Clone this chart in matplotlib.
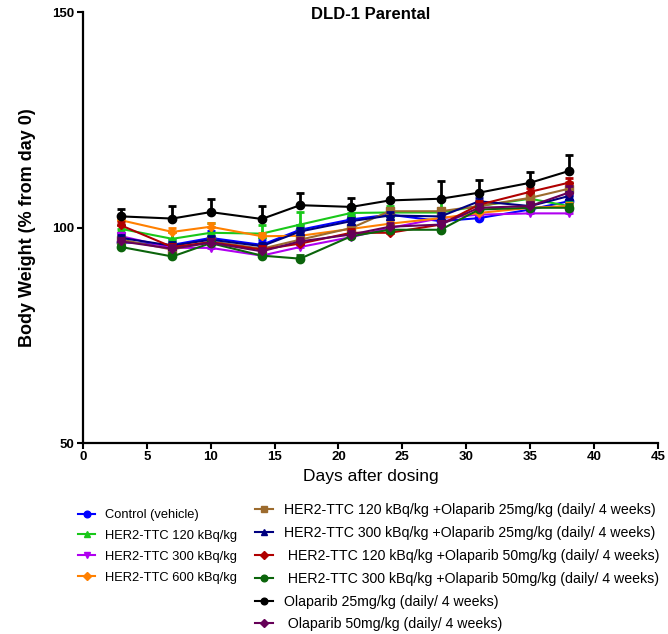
import numpy as np
import matplotlib.pyplot as plt

plt.rcParams['font.family'] = ['Liberation Sans', 'DejaVu Sans']

days = [3, 7, 10, 14, 17, 21, 24, 28, 31, 35, 38]

labels = ["Control (vehicle)",
          "HER2-TTC 120 kBq/kg",
          "HER2-TTC 300 kBq/kg",
          "HER2-TTC 600 kBq/kg",
          "HER2-TTC 120 kBq/kg +Olaparib 25mg/kg (daily/ 4 weeks)",
          "HER2-TTC 300 kBq/kg +Olaparib 25mg/kg (daily/ 4 weeks)",
          " HER2-TTC 120 kBq/kg +Olaparib 50mg/kg (daily/ 4 weeks)",
          " HER2-TTC 300 kBq/kg +Olaparib 50mg/kg (daily/ 4 weeks)",
          "Olaparib 25mg/kg (daily/ 4 weeks)",
          " Olaparib 50mg/kg (daily/ 4 weeks)"]

control      = [96.6, 96.0, 97.6, 96.0, 99.5, 101.9, 103.0, 101.5, 102.2, 104.2, 106.1]
ttc120       = [99.7, 97.4, 98.8, 98.6, 100.7, 103.4, 103.5, 103.5, 105.0, 106.7, 105.0]
ttc300       = [98.0, 95.3, 95.3, 93.5, 95.5, 97.8, 99.9, 102.2, 103.0, 103.3, 103.3]
ttc600       = [101.7, 99.0, 100.2, 98.0, 98.1, 99.7, 100.9, 102.2, 103.4, 104.6, 105.0]
ttc120_ola25 = [97.2, 94.9, 96.8, 95.1, 97.2, 99.9, 103.8, 103.8, 105.0, 106.9, 109.0]
ttc300_ola25 = [97.6, 95.8, 97.2, 95.7, 99.1, 101.5, 102.8, 102.6, 106.1, 105.0, 107.3]
ttc120_ola50 = [100.5, 95.5, 96.6, 94.9, 96.3, 98.8, 98.8, 100.7, 105.3, 108.3, 110.4]
ttc300_ola50 = [95.5, 93.3, 96.4, 93.5, 92.8, 98.0, 99.5, 99.5, 104.2, 104.6, 104.6]
ola25        = [102.6, 102.1, 103.6, 102.0, 105.2, 104.8, 106.3, 106.7, 108.1, 110.4, 113.1]
ola50        = [96.8, 95.1, 96.5, 94.5, 96.8, 98.4, 100.2, 100.7, 104.6, 105.0, 108.1]

# upper SD only
control_err      = [1.0, 1.2, 1.5, 1.2, 1.2, 1.0, 1.2, 1.0, 1.0, 1.2, 1.5]
ttc120_err       = [1.0, 1.5, 2.3, 2.1, 2.9, 1.0, 1.5, 3.0, 1.0, 1.0, 1.0]
ttc300_err       = [0.8, 0.8, 0.8, 0.8, 0.8, 0.8, 0.8, 0.8, 0.8, 0.8, 0.8]
ttc600_err       = [0.8, 0.8, 0.8, 0.8, 0.8, 0.8, 0.8, 0.8, 0.8, 0.8, 0.8]
ttc120_ola25_err = [0.8, 0.8, 0.8, 0.8, 0.8, 0.8, 0.8, 0.8, 0.8, 1.0, 1.5]
ttc300_ola25_err = [0.8, 0.8, 0.8, 0.8, 0.8, 0.8, 0.8, 0.8, 0.8, 0.8, 1.0]
ttc120_ola50_err = [0.8, 0.8, 0.8, 0.8, 0.8, 0.8, 0.8, 0.8, 0.8, 0.8, 1.0]
ttc300_ola50_err = [0.8, 0.8, 0.8, 0.8, 0.8, 0.8, 0.8, 0.8, 0.8, 0.8, 0.8]
ola25_err        = [1.8, 3.0, 3.0, 3.0, 2.9, 2.1, 4.0, 4.2, 3.0, 2.6, 3.8]
ola50_err        = [0.8, 0.8, 0.8, 0.8, 0.8, 0.8, 0.8, 0.8, 0.8, 1.0, 1.5]

series = [control, ttc120, ttc300, ttc600, ttc120_ola25, ttc300_ola25,
          ttc120_ola50, ttc300_ola50, ola25, ola50]
errs = [control_err, ttc120_err, ttc300_err, ttc600_err, ttc120_ola25_err,
        ttc300_ola25_err, ttc120_ola50_err, ttc300_ola50_err, ola25_err, ola50_err]
colors = ['#0000FF', '#19C819', '#B000F0', '#FF8000', '#9C6B2E',
          '#000080', '#B00000', '#0B640B', '#000000', '#660058']
markers = ['o', '^', 'v', 'D', 's', '^', 'D', 'o', 'o', 'D']
msizes = [6, 6, 6, 4.5, 5.5, 6, 4.5, 6, 6, 4.5]

fig = plt.figure(figsize=(6.68, 6.34), dpi=100)
ax = fig.add_axes([0.124, 0.301, 0.861, 0.680])

handles = []
for y, e, c, m, ms in zip(series, errs, colors, markers, msizes):
    ax.errorbar(days, y, yerr=[np.zeros(len(e)), e], fmt='none', ecolor=c,
                elinewidth=2, capsize=3, capthick=2)
    h, = ax.plot(days, y, color=c, marker=m, markersize=ms, linewidth=1.5)
    handles.append(h)

ax.set_xlim(0, 45)
ax.set_ylim(50, 150)
ax.set_xticks(np.arange(0, 46, 5))
ax.set_yticks([50, 100, 150])
for s in ['top', 'right']:
    ax.spines[s].set_visible(False)
for s in ['left', 'bottom']:
    ax.spines[s].set_linewidth(1.6)
ax.tick_params(direction='out', length=4, width=1.5, labelsize=9.5, pad=2)
for lab in ax.get_xticklabels() + ax.get_yticklabels():
    lab.set_fontweight('bold')

ax.set_title("DLD-1 Parental", fontsize=12, fontweight='bold', pad=0, y=0.985)
ax.set_ylabel("Body Weight (% from day 0)", fontsize=13, fontweight='bold', labelpad=12)
ax.set_xlabel("Days after dosing", fontsize=12.5, labelpad=4)

leg_kw = dict(frameon=False, handlelength=1.3, handletextpad=0.75,
              borderaxespad=0, borderpad=0, markerscale=0.8)
fig.legend(handles[:4], labels[:4], loc='upper left', bbox_to_anchor=(0.117, 0.197),
           labelspacing=0.68, fontsize=9.3, **leg_kw)
fig.legend(handles[4:], labels[4:], loc='upper left', bbox_to_anchor=(0.381, 0.206),
           labelspacing=0.62, fontsize=10.2, **leg_kw)

fig.savefig('out.png', dpi=100)
